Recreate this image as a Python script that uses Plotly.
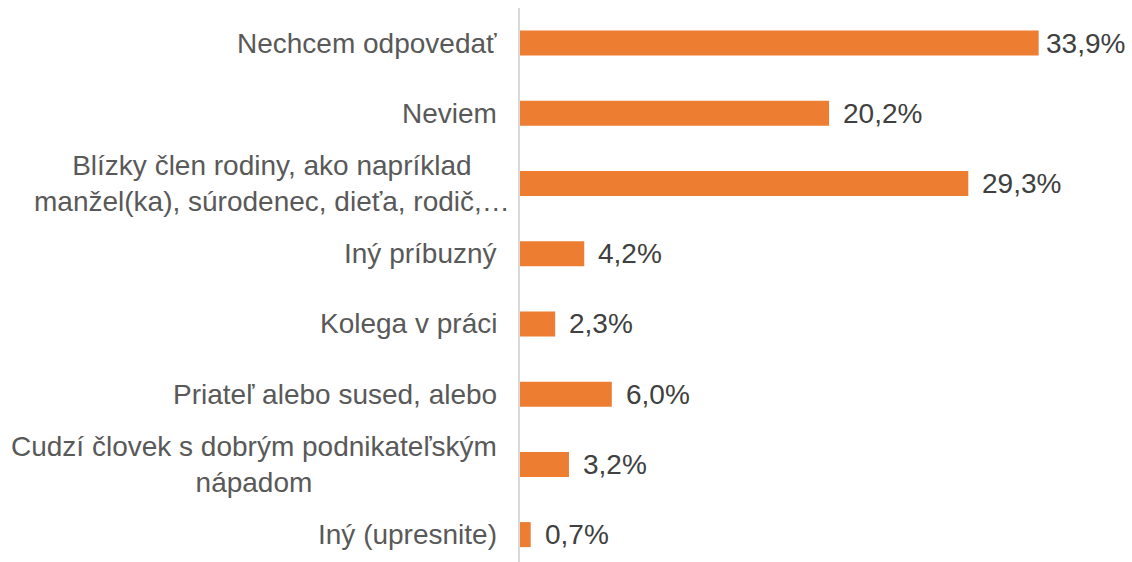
import plotly.graph_objects as go

# Survey answers, listed top to bottom
categories = [
    "Nechcem odpovedať",
    "Neviem",
    "Blízky člen rodiny, ako napríklad<br>manžel(ka), súrodenec, dieťa, rodič,…",
    "Iný príbuzný",
    "Kolega v práci",
    "Priateľ alebo sused, alebo",
    "Cudzí človek s dobrým podnikateľským<br>nápadom",
    "Iný (upresnite)",
]
shares = [33.9, 20.2, 29.3, 4.2, 2.3, 6.0, 3.2, 0.7]
value_labels = ["33,9%", "20,2%", "29,3%", "4,2%", "2,3%", "6,0%", "3,2%", "0,7%"]

FONT = "Liberation Sans, Arial, sans-serif"
BAR_COLOR = "#ED7D31"

idx = list(range(len(categories)))

fig = go.Figure(
    go.Bar(
        x=shares,
        y=idx,
        orientation="h",
        marker=dict(color=BAR_COLOR, line=dict(width=0)),
        width=0.356,
        hoverinfo="skip",
    )
)

annotations = []
# category labels, right-aligned to the axis, lines centred within each label;
# a truncated (…) label is allowed to run up to the axis line
for i, cat in enumerate(categories):
    annotations.append(
        dict(
            x=0, xref="paper", y=i, yref="y",
            text=cat, showarrow=False,
            xanchor="right", yanchor="middle", align="center",
            xshift=-8 if cat.endswith("…") else -21,
            font=dict(family=FONT, size=28, color="#595959"),
        )
    )
# value labels just past the end of each bar
for i, (v, lab) in enumerate(zip(shares, value_labels)):
    annotations.append(
        dict(
            x=v, xref="x", y=i, yref="y",
            text=lab, showarrow=False,
            xanchor="left", yanchor="middle",
            xshift=12 if v < 30 else 5,
            font=dict(family=FONT, size=28, color="#404040"),
        )
    )

fig.update_layout(
    width=1132,
    height=562,
    margin=dict(l=520, r=0, t=8, b=0),
    paper_bgcolor="white",
    plot_bgcolor="white",
    showlegend=False,
    annotations=annotations,
    xaxis=dict(
        range=[0, 40],
        visible=False,
        showgrid=False,
        zeroline=False,
        fixedrange=True,
    ),
    yaxis=dict(
        range=[7.39, -0.5],
        showticklabels=False,
        showgrid=False,
        zeroline=False,
        showline=True,
        linecolor="#D9D9D9",
        linewidth=1.5,
        ticks="",
        fixedrange=True,
    ),
)

fig.write_html("out.html", config={"displayModeBar": False})
